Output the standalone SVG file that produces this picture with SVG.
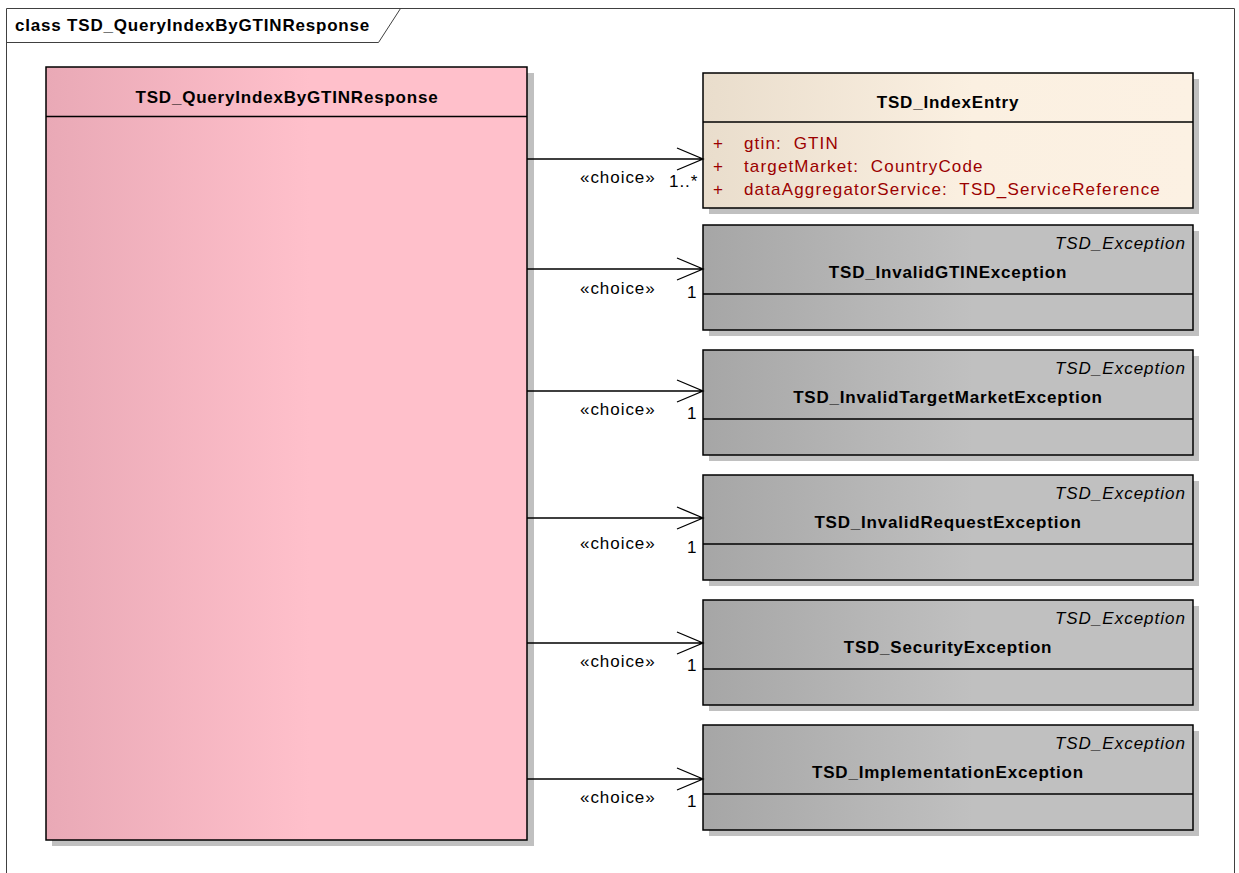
<svg xmlns="http://www.w3.org/2000/svg" width="1239" height="873" viewBox="0 0 1239 873">
<defs>
<linearGradient id="gPink" x1="0" y1="0" x2="1" y2="0">
<stop offset="0" stop-color="#e9a9b6"/>
<stop offset="0.55" stop-color="#ffc0cb"/>
<stop offset="1" stop-color="#ffc0cb"/>
</linearGradient>
<linearGradient id="gGray" x1="0" y1="0" x2="1" y2="0">
<stop offset="0" stop-color="#a6a6a6"/>
<stop offset="0.55" stop-color="#c0c0c0"/>
<stop offset="1" stop-color="#c0c0c0"/>
</linearGradient>
<linearGradient id="gLinen" x1="0" y1="0" x2="1" y2="0">
<stop offset="0" stop-color="#e9ddcc"/>
<stop offset="0.55" stop-color="#fbf0e1"/>
<stop offset="1" stop-color="#fcf1e3"/>
</linearGradient>
</defs>
<style>
text{font-family:"Liberation Sans",Arial,sans-serif;font-size:17px;fill:#000;letter-spacing:0.95px}
.b{font-weight:bold;letter-spacing:0.8px}
.i{font-style:italic;letter-spacing:1px}
.attr{fill:#9b0000;white-space:pre;letter-spacing:1.15px}
.box{stroke:#000;stroke-width:1.5}
.shadow{fill:#c0c0c0;stroke:none}
.div{stroke:#000;stroke-width:1.5}
.conn{stroke:#000;stroke-width:1.3;fill:none}
</style>
<rect x="0" y="0" width="1239" height="873" fill="#fff"/>
<g id="frame">
<path d="M6.5 873 V8.5 H1234.5 V873" fill="none" stroke="#404040" stroke-width="1"/>
<path d="M6.5 42.5 H378.5 L400.5 8.5" fill="none" stroke="#404040" stroke-width="1"/>
<text class="b" x="15" y="31">class TSD_QueryIndexByGTINResponse</text>
</g>
<g id="TSD_QueryIndexByGTINResponse">
<rect class="shadow" x="52" y="73" width="482" height="773"/>
<rect class="box" x="46" y="67" width="481" height="773" fill="url(#gPink)"/>
<line class="div" x1="46" y1="116.5" x2="527" y2="116.5"/>
<text class="b" x="287" y="103" text-anchor="middle">TSD_QueryIndexByGTINResponse</text>
</g>
<g id="TSD_IndexEntry">
<rect class="shadow" x="709" y="79" width="490" height="135"/>
<rect class="box" x="703" y="73" width="490" height="135" fill="url(#gLinen)"/>
<line class="div" x1="703" y1="122" x2="1193" y2="122"/>
<text class="b" x="948" y="108" text-anchor="middle">TSD_IndexEntry</text>
<text class="attr" x="713" y="149">+</text>
<text class="attr" x="744" y="149" xml:space="preserve">gtin:  GTIN</text>
<text class="attr" x="713" y="172">+</text>
<text class="attr" x="744" y="172" xml:space="preserve">targetMarket:  CountryCode</text>
<text class="attr" x="713" y="195">+</text>
<text class="attr" x="744" y="195" xml:space="preserve">dataAggregatorService:  TSD_ServiceReference</text>
</g>
<g id="TSD_InvalidGTINException">
<rect class="shadow" x="709" y="231" width="490" height="105"/>
<rect class="box" x="703" y="225" width="490" height="105" fill="url(#gGray)"/>
<line class="div" x1="703" y1="294" x2="1193" y2="294"/>
<text class="i" x="1186" y="249" text-anchor="end">TSD_Exception</text>
<text class="b" x="948" y="278" text-anchor="middle">TSD_InvalidGTINException</text>
</g>
<g id="TSD_InvalidTargetMarketException">
<rect class="shadow" x="709" y="356" width="490" height="105"/>
<rect class="box" x="703" y="350" width="490" height="105" fill="url(#gGray)"/>
<line class="div" x1="703" y1="419" x2="1193" y2="419"/>
<text class="i" x="1186" y="374" text-anchor="end">TSD_Exception</text>
<text class="b" x="948" y="403" text-anchor="middle">TSD_InvalidTargetMarketException</text>
</g>
<g id="TSD_InvalidRequestException">
<rect class="shadow" x="709" y="481" width="490" height="105"/>
<rect class="box" x="703" y="475" width="490" height="105" fill="url(#gGray)"/>
<line class="div" x1="703" y1="544" x2="1193" y2="544"/>
<text class="i" x="1186" y="499" text-anchor="end">TSD_Exception</text>
<text class="b" x="948" y="528" text-anchor="middle">TSD_InvalidRequestException</text>
</g>
<g id="TSD_SecurityException">
<rect class="shadow" x="709" y="606" width="490" height="105"/>
<rect class="box" x="703" y="600" width="490" height="105" fill="url(#gGray)"/>
<line class="div" x1="703" y1="669" x2="1193" y2="669"/>
<text class="i" x="1186" y="624" text-anchor="end">TSD_Exception</text>
<text class="b" x="948" y="653" text-anchor="middle">TSD_SecurityException</text>
</g>
<g id="TSD_ImplementationException">
<rect class="shadow" x="709" y="731" width="490" height="105"/>
<rect class="box" x="703" y="725" width="490" height="105" fill="url(#gGray)"/>
<line class="div" x1="703" y1="794" x2="1193" y2="794"/>
<text class="i" x="1186" y="749" text-anchor="end">TSD_Exception</text>
<text class="b" x="948" y="778" text-anchor="middle">TSD_ImplementationException</text>
</g>
<g id="connectors">
<path class="conn" d="M527 159 H703 M677 148 L703 159 L677 170"/>
<text x="580" y="183">«choice»</text>
<text x="669" y="187">1..*</text>
<path class="conn" d="M527 269 H703 M677 258 L703 269 L677 280"/>
<text x="580" y="294">«choice»</text>
<text x="687" y="298">1</text>
<path class="conn" d="M527 391 H703 M677 380 L703 391 L677 402"/>
<text x="580" y="415">«choice»</text>
<text x="687" y="419">1</text>
<path class="conn" d="M527 518 H703 M677 507 L703 518 L677 529"/>
<text x="580" y="549">«choice»</text>
<text x="687" y="553">1</text>
<path class="conn" d="M527 643 H703 M677 632 L703 643 L677 654"/>
<text x="580" y="667">«choice»</text>
<text x="687" y="671">1</text>
<path class="conn" d="M527 779 H703 M677 768 L703 779 L677 790"/>
<text x="580" y="803">«choice»</text>
<text x="687" y="807">1</text>
</g>
</svg>
